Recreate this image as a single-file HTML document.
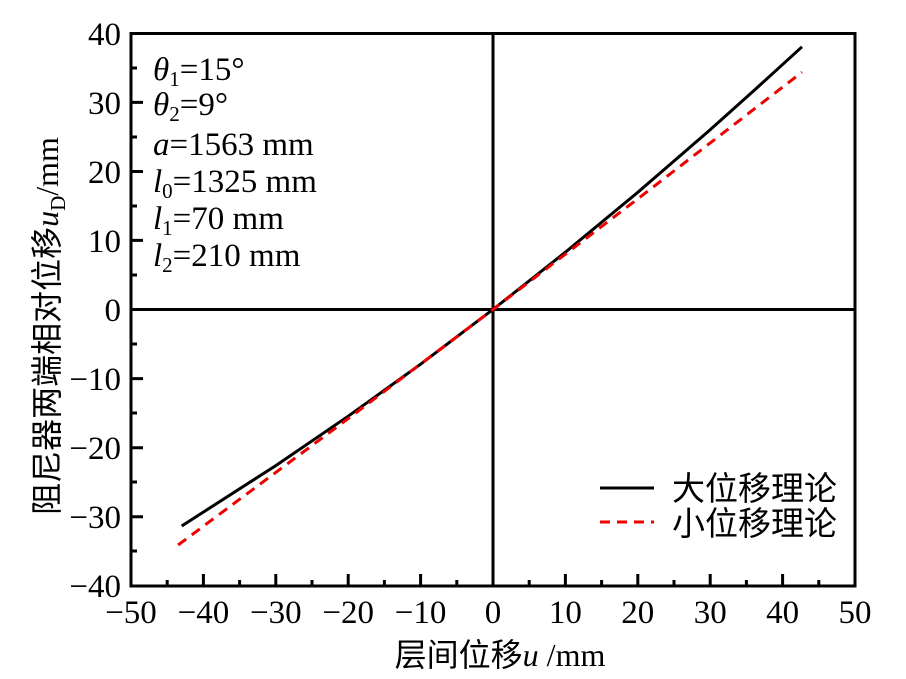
<!DOCTYPE html>
<html><head><meta charset="utf-8"><style>
body{margin:0;background:#fff;}
svg{display:block;font-family:"Liberation Serif","Noto Serif CJK SC",serif;}
.cn{font-family:"Liberation Serif","Noto Sans CJK SC",sans-serif;}
</style></head><body>
<svg width="906" height="679" viewBox="0 0 906 679">
<rect width="906" height="679" fill="#fff"/>
<line x1="131" y1="309.5" x2="855" y2="309.5" stroke="#000" stroke-width="3"/>
<line x1="493" y1="33.5" x2="493" y2="586" stroke="#000" stroke-width="3"/>
<rect x="131" y="33.5" width="724" height="552.5" fill="none" stroke="#000" stroke-width="3"/>
<g stroke="#000" stroke-width="3">
<path d="M203.4 586v-12M275.8 586v-12M348.2 586v-12M420.6 586v-12M565.4 586v-12M637.8 586v-12M710.2 586v-12M782.6 586v-12
M167.2 586v-6M239.6 586v-6M312 586v-6M384.4 586v-6M456.8 586v-6M529.2 586v-6M601.6 586v-6M674 586v-6M746.4 586v-6M818.8 586v-6"/>
<path d="M131 102.4h12M131 171.5h12M131 240.4h12M131 378.6h12M131 447.7h12M131 516.8h12
M131 68h6M131 137h6M131 206h6M131 275h6M131 344h6M131 413h6M131 482h6M131 551h6"/>
</g>
<polyline points="181.7,526 275.8,465.6 348.2,416.2 420.6,364.2 493,309.5 565.4,252.2 637.8,192.3 710.2,129.7 753.6,90.9 802,46.8" fill="none" stroke="#000" stroke-width="3"/>
<polyline points="178.1,545 348.2,418.6 493,309.5 637.8,198.8 802,72.2" fill="none" stroke="#e00" stroke-width="3" stroke-dasharray="10,7"/>
<g font-size="33" text-anchor="middle">
<text x="131" y="623">−50</text><text x="203.4" y="623">−40</text><text x="275.8" y="623">−30</text><text x="348.2" y="623">−20</text><text x="420.6" y="623">−10</text><text x="493" y="623">0</text><text x="565.4" y="623">10</text><text x="637.8" y="623">20</text><text x="710.2" y="623">30</text><text x="782.6" y="623">40</text><text x="855" y="623">50</text>
</g>
<g font-size="33" text-anchor="end">
<text x="121" y="45">40</text><text x="121" y="114">30</text><text x="121" y="183">20</text><text x="121" y="252">10</text><text x="121" y="321">0</text><text x="121" y="390">−10</text><text x="121" y="459">−20</text><text x="121" y="528">−30</text><text x="121" y="597">−40</text>
</g>
<g font-size="33">
<text x="153" y="80"><tspan font-style="italic">θ</tspan><tspan font-size="21" dy="6">1</tspan><tspan dy="-6">=15°</tspan></text>
<text x="153" y="115"><tspan font-style="italic">θ</tspan><tspan font-size="21" dy="6">2</tspan><tspan dy="-6">=9°</tspan></text>
<text x="153" y="155"><tspan font-style="italic">a</tspan>=1563 mm</text>
<text x="153" y="192"><tspan font-style="italic">l</tspan><tspan font-size="21" dy="6">0</tspan><tspan dy="-6">=1325 mm</tspan></text>
<text x="153" y="229"><tspan font-style="italic">l</tspan><tspan font-size="21" dy="6">1</tspan><tspan dy="-6">=70 mm</tspan></text>
<text x="153" y="266"><tspan font-style="italic">l</tspan><tspan font-size="21" dy="6">2</tspan><tspan dy="-6">=210 mm</tspan></text>
</g>
<line x1="600" y1="488" x2="654" y2="488" stroke="#000" stroke-width="3"/>
<line x1="600" y1="522" x2="654" y2="522" stroke="#e00" stroke-width="3" stroke-dasharray="10,7"/>
<text class="cn" x="672" y="500" font-size="33">大位移理论</text>
<text class="cn" x="672" y="535" font-size="33">小位移理论</text>
<text x="500" y="666" font-size="32" text-anchor="middle"><tspan class="cn">层间位移</tspan><tspan font-style="italic">u</tspan> /mm</text>
<text transform="translate(58,326) rotate(-90)" font-size="32" text-anchor="middle"><tspan class="cn">阻尼器两端相对位移</tspan><tspan font-style="italic">u</tspan><tspan font-size="21" dy="7">D</tspan><tspan dy="-7">/mm</tspan></text>
</svg>
</body></html>
